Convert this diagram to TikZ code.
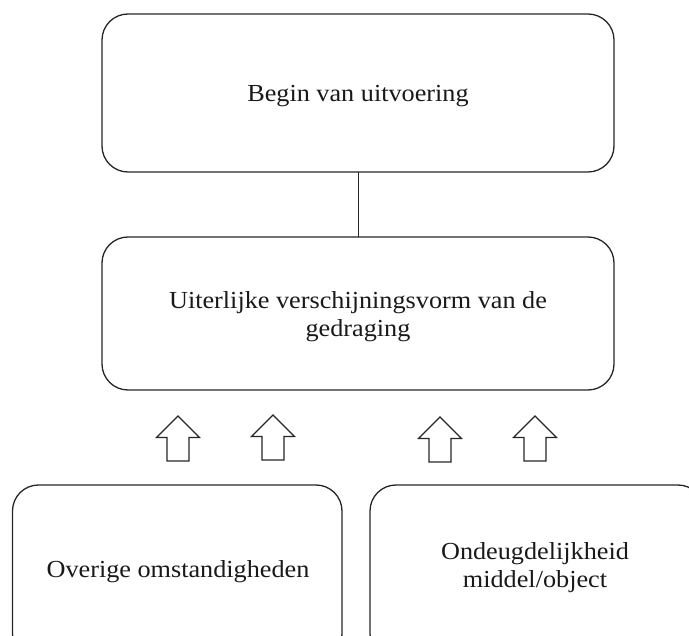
\documentclass[tikz,border=0pt]{standalone}
\usepackage{fontspec}
\setmainfont{Liberation Serif}[FakeStretch=1.07]
\begin{document}
\begin{tikzpicture}[x=1pt,y=-1pt,
  box/.style={draw=black!85,line width=1.3pt,rounded corners=26pt},
  lbl/.style={font=\fontsize{24.5}{28}\selectfont,align=center,text=black!90,anchor=base,inner sep=0pt},
  uparrow/.style={draw=black!85,line width=1.4pt,fill=white,line join=miter}]
\useasboundingbox (0,0) rectangle (689,636);
\begin{scope}
\clip (0,0) rectangle (689,636);
\draw[box] (102,14) rectangle (614,172);
\node[lbl] (top) at (358,101.5) {Begin van uitvoering};
\coordinate (topb) at (358,172);
\draw[box] (102,237) rectangle (614,390);
\node[lbl] (mid) at (358,337) {Uiterlijke verschijningsvorm van de\\gedraging};
\coordinate (midt) at (358,237);
\draw[line width=0.8pt,black!85] (topb) -- (midt);
\draw[box] (12.5,485) rectangle (342,660);
\node[lbl] (left) at (178,577) {Overige omstandigheden};
\draw[box] (370,485) rectangle (704,660);
\node[lbl] (right) at (535,587) {Ondeugdelijkheid\\middel/object};
\foreach \cx/\ty in {178/416, 273/415, 440/417, 535/416}{
  \draw[uparrow] (\cx,\ty) -- (\cx+21.5,\ty+21.5) -- (\cx+11,\ty+21.5) -- (\cx+11,\ty+45)
    -- (\cx-11,\ty+45) -- (\cx-11,\ty+21.5) -- (\cx-21.5,\ty+21.5) -- cycle;
}
\end{scope}
\end{tikzpicture}
\end{document}
